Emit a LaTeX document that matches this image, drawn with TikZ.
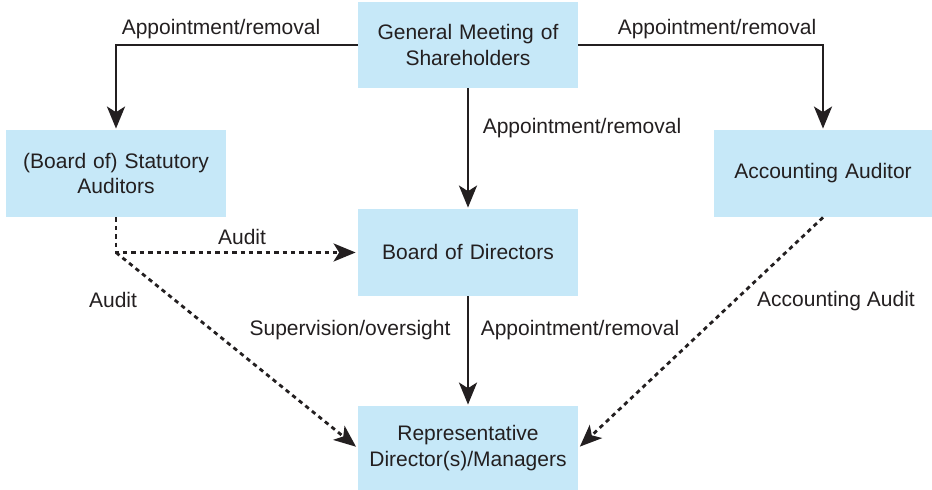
\documentclass[tikz,border=0pt]{standalone}
\usepackage{fontspec}
\setmainfont{Liberation Sans}
\usetikzlibrary{arrows.meta}
\definecolor{boxfill}{RGB}{198,232,248}
\definecolor{ink}{RGB}{35,31,32}
\begin{document}
\begin{tikzpicture}[x=0.5pt,y=-0.5pt,
  font=\fontsize{10.5}{12.6}\selectfont, text=ink,
  box/.style={fill=boxfill, draw=none, inner sep=0pt, align=center, text width=#1},
  solidarrow/.style={draw=ink, line width=1.4pt, -{Stealth[length=11pt,width=9pt,inset=2.8pt]}, shorten >=0.5pt},
  dasharrow/.style={draw=ink, line width=1.4pt, dash pattern=on 2.2pt off 2pt, -{Stealth[length=11pt,width=9pt,inset=2.8pt]}, shorten >=1pt},
  lbl/.style={inner sep=0pt}]
\useasboundingbox[fill=white] (0,0) rectangle (932,490);
% boxes
\node[box=110pt, minimum height=43pt] (gm) at (468,45) {General Meeting of\\Shareholders};
\node[box=110pt, minimum height=43.5pt] (sa) at (116,173.5) {(Board of) Statutory\\Auditors};
\node[box=109pt, minimum height=43.5pt] (aa) at (823,173.5) {Accounting Auditor};
\node[box=110pt, minimum height=43.5pt] (bod) at (468,252.5) {Board of Directors};
\node[box=110pt, minimum height=42pt] (rep) at (468,448) {Representative\\Director(s)/Managers};
% solid arrows
\draw[solidarrow] (gm.west) -| (sa.north);
\draw[solidarrow] (gm.east) -| (aa.north);
\draw[solidarrow] (gm.south) -- (bod.north);
\draw[solidarrow] (bod.south) -- (rep.north);
% dashed arrows
\coordinate (j) at (sa.south |- bod.west);
\draw[dasharrow] (sa.south) -- (j) -- (bod.west);
\draw[dasharrow] (j) -- (rep.west);
\draw[dasharrow] (aa.south) -- (rep.east);
% labels
\node[lbl] (l1) at (221,29) {Appointment/removal};
\node[lbl] (l2) at (717,29) {Appointment/removal};
\node[lbl] (l3) at (582,128) {Appointment/removal};
\node[lbl] (l4) at (242,237) {Audit};
\node[lbl] (l5) at (113,300) {Audit};
\node[lbl] (l6) at (350,330) {Supervision/oversight};
\node[lbl] (l7) at (580,330) {Appointment/removal};
\node[lbl] (l8) at (836,301) {Accounting Audit};
\end{tikzpicture}
\end{document}
